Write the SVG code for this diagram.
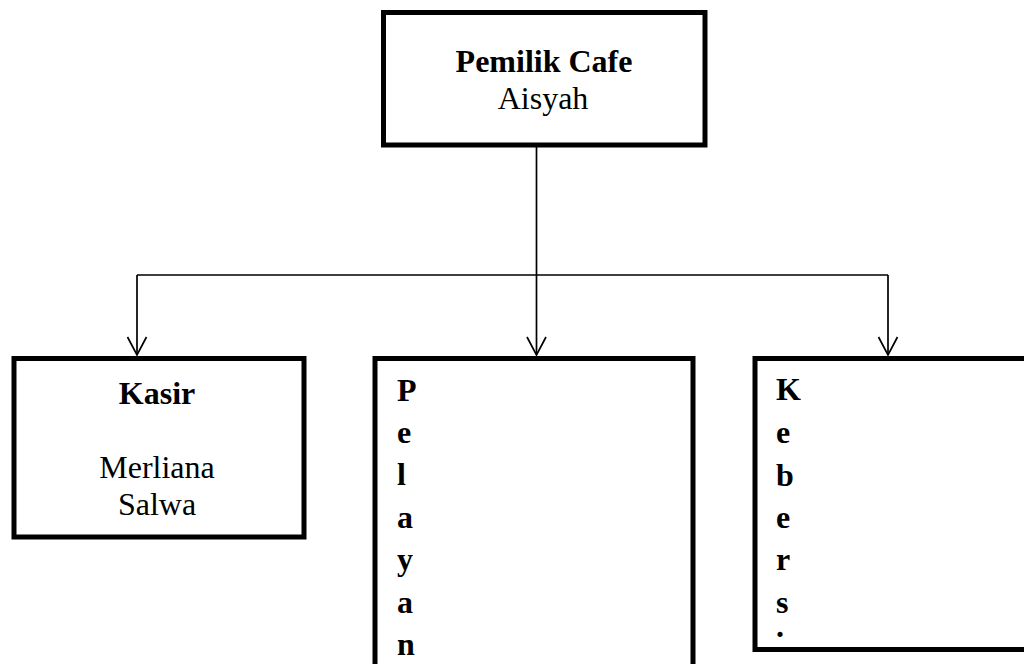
<svg xmlns="http://www.w3.org/2000/svg" width="1024" height="664" viewBox="0 0 1024 664">
<style>
.box{fill:#fff;stroke:#000;stroke-width:5}
.t{font-family:"Liberation Serif","Times New Roman",serif;font-size:32px;fill:#000}
.b{font-weight:bold}
.c{text-anchor:middle}
.ln{fill:none;stroke:#000;stroke-width:1.7}
</style>
<rect width="1024" height="664" fill="#fff"/>
<g id="connectors">
<path class="ln" d="M536.5,147 V355 M137,275 H888 M137,275 V355 M888,275 V355"/>
<path class="ln" d="M127.5,337 L137,355 L146.5,337 M527,337 L536.5,355 L546,337 M878.5,337 L888,355 L897.5,337"/>
</g>
<g id="pemilik">
<rect class="box" x="383.5" y="12.5" width="321.5" height="132.5"/>
<text class="t b c" x="544" y="72">Pemilik Cafe</text>
<text class="t c" x="543" y="109">Aisyah</text>
</g>
<g id="kasir">
<rect class="box" x="14" y="358.5" width="290" height="178.5"/>
<text class="t b c" x="157" y="404">Kasir</text>
<text class="t c" x="157" y="478">Merliana</text>
<text class="t c" x="157" y="515">Salwa</text>
</g>
<g id="pelayan">
<rect class="box" x="375" y="358.5" width="318" height="320"/>
<text class="t b" x="397" y="401">P</text>
<text class="t b" x="397" y="443">e</text>
<text class="t b" x="397" y="485">l</text>
<text class="t b" x="397" y="528">a</text>
<text class="t b" x="397" y="570">y</text>
<text class="t b" x="397" y="613">a</text>
<text class="t b" x="397" y="655">n</text>
</g>
<g id="kebers">
<rect class="box" x="755" y="358.5" width="290" height="291"/>
<text class="t b" x="776" y="400">K</text>
<text class="t b" x="776" y="443">e</text>
<text class="t b" x="776" y="486">b</text>
<text class="t b" x="776" y="528">e</text>
<text class="t b" x="776" y="570">r</text>
<text class="t b" x="776" y="613">s</text>
<text class="t b" x="776" y="637">.</text>
</g>
</svg>
